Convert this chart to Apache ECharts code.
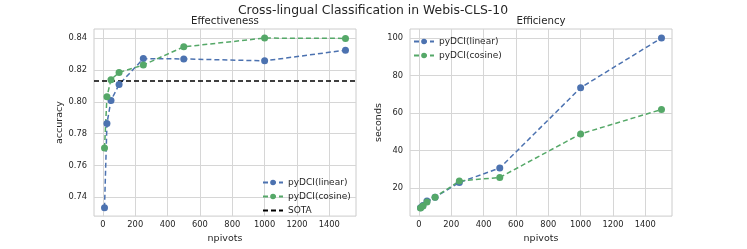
<!DOCTYPE html>
<html>
<head>
<meta charset="utf-8">
<script src="https://cdn.jsdelivr.net/npm/echarts@6/dist/echarts.min.js"></script>
<style>
html,body{margin:0;padding:0;background:#fff;}
#c{width:747px;height:249px;}
</style>
</head>
<body>
<div id="c"></div>
<script>
// ---- data ----
const npivots = [10, 25, 50, 100, 250, 500, 1000, 1500];
const accLinear = [0.7335, 0.7863, 0.8008, 0.8108, 0.8271, 0.8269, 0.8257, 0.8324];
const accCosine = [0.7710, 0.8031, 0.8139, 0.8184, 0.8231, 0.8345, 0.8400, 0.8398];
const sotaAcc = 0.8131;
const secLinear = [9.6, 10.8, 13.1, 15.2, 23.0, 30.7, 73.5, 100.0];
const secCosine = [9.4, 10.5, 12.6, 15.2, 23.8, 25.7, 48.9, 61.9];
const xTicks = [0, 200, 400, 600, 800, 1000, 1200, 1400];
const accTicks = [0.74, 0.76, 0.78, 0.80, 0.82, 0.84];
const secTicks = [20, 40, 60, 80, 100];
const seriesNames = ['pyDCI(linear)', 'pyDCI(cosine)', 'SOTA'];
const mainTitle = 'Cross-lingual Classification in Webis-CLS-10';
const subTitles = ['Effectiveness', 'Efficiency'];

// ---- styles ----
const FONT = 'DejaVu Sans';
const TXT = '#262626';
const BLUE = '#4C72B0';
const GREEN = '#55A868';
const GRIDC = '#d6d6d6';
const xMin = -55, xMax = 1565;

const zip = (xs, ys) => xs.map((x, i) => [x, ys[i]]);

function xAxisCfg(idx) {
  return {
    type: 'value', gridIndex: idx, min: xMin, max: xMax,
    name: 'npivots', nameLocation: 'middle', nameGap: 17,
    nameTextStyle: {fontFamily: FONT, fontSize: 9.5, color: TXT},
    axisLine: {show: false}, axisTick: {show: false, customValues: xTicks},
    axisLabel: {customValues: xTicks, fontFamily: FONT, fontSize: 8.3, color: TXT, margin: 5, formatter: v => String(v)},
    splitLine: {show: true, lineStyle: {color: GRIDC, width: 1}}
  };
}
function yAxisCfg(idx, name, mn, mx, ticks, fmt, gap) {
  return {
    type: 'value', gridIndex: idx, min: mn, max: mx,
    name: name, nameLocation: 'middle', nameGap: gap,
    nameTextStyle: {fontFamily: FONT, fontSize: 9.5, color: TXT},
    axisLine: {show: false}, axisTick: {show: false, customValues: ticks},
    axisLabel: {customValues: ticks, fontFamily: FONT, fontSize: 8.3, color: TXT, margin: 7, formatter: fmt},
    splitLine: {show: true, lineStyle: {color: GRIDC, width: 1}}
  };
}
function lineSeries(name, data, color, xi, yi) {
  return {
    type: 'line', name: name, xAxisIndex: xi, yAxisIndex: yi, data: data,
    symbol: 'circle', symbolSize: 7, showSymbol: true,
    itemStyle: {color: color},
    lineStyle: {color: color, width: 1.5, type: [5, 3]},
    emphasis: {disabled: true}, animation: false
  };
}

const chart = echarts.init(document.getElementById('c'), null, {renderer: 'canvas'});
chart.setOption({
  backgroundColor: '#fff',
  animation: false,
  title: [
    {text: mainTitle, left: 373, top: 5, textAlign: 'center', padding: 0,
     textStyle: {fontFamily: FONT, fontSize: 12.4, fontWeight: 'normal', color: TXT}},
    {text: subTitles[0], left: 225, top: 16, textAlign: 'center', padding: 0,
     textStyle: {fontFamily: FONT, fontSize: 10.2, fontWeight: 'normal', color: TXT}},
    {text: subTitles[1], left: 541, top: 16, textAlign: 'center', padding: 0,
     textStyle: {fontFamily: FONT, fontSize: 10.2, fontWeight: 'normal', color: TXT}}
  ],
  grid: [
    {left: 94, top: 29, width: 262, height: 192, show: true, borderColor: '#cccccc', borderWidth: 1, containLabel: false},
    {left: 410, top: 29, width: 262, height: 192, show: true, borderColor: '#cccccc', borderWidth: 1, containLabel: false}
  ],
  xAxis: [xAxisCfg(0), xAxisCfg(1)],
  yAxis: [
    yAxisCfg(0, 'accuracy', 0.7282, 0.8457, accTicks, v => v.toFixed(2), 29),
    yAxisCfg(1, 'seconds', 5.1, 104.8, secTicks, v => String(v), 22)
  ],
  legend: [
    {data: seriesNames, orient: 'vertical', left: 262, top: 178, itemWidth: 20, itemHeight: 7, itemGap: 5,
     padding: 0,
     textStyle: {fontFamily: FONT, fontSize: 9, color: TXT}},
    {data: seriesNames.slice(0, 2), orient: 'vertical', left: 413, top: 37, itemWidth: 20, itemHeight: 7, itemGap: 5,
     padding: 0,
     textStyle: {fontFamily: FONT, fontSize: 9, color: TXT}}
  ],
  series: [
    lineSeries(seriesNames[0], zip(npivots, accLinear), BLUE, 0, 0),
    lineSeries(seriesNames[1], zip(npivots, accCosine), GREEN, 0, 0),
    {type: 'line', name: seriesNames[2], xAxisIndex: 0, yAxisIndex: 0,
     data: [[xMin, sotaAcc], [xMax, sotaAcc]], symbol: 'none', showSymbol: false,
     itemStyle: {color: 'rgba(0,0,0,0)', borderWidth: 0, borderColor: 'rgba(0,0,0,0)'},
     lineStyle: {color: '#000', width: 1.5, type: [5, 3]},
     emphasis: {disabled: true}, animation: false},
    lineSeries(seriesNames[0], zip(npivots, secLinear), BLUE, 1, 1),
    lineSeries(seriesNames[1], zip(npivots, secCosine), GREEN, 1, 1)
  ]
});
</script>
</body>
</html>
